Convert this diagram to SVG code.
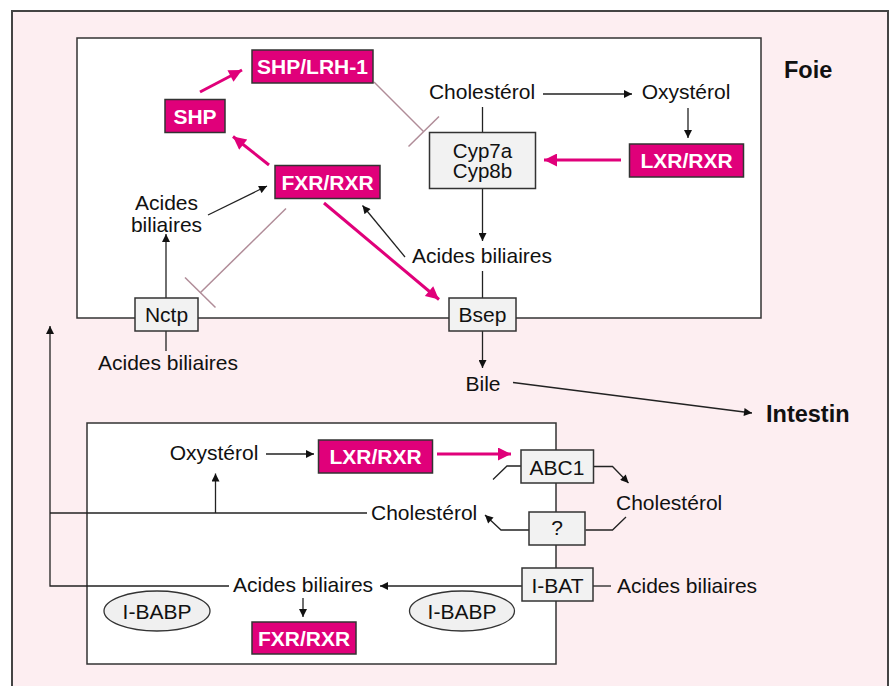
<svg xmlns="http://www.w3.org/2000/svg" width="890" height="686" viewBox="0 0 890 686">
<defs>
<style>
text{font-family:"Liberation Sans",Arial,sans-serif;font-size:21px;fill:#111}
.c{text-anchor:middle}
.w{fill:#fff;font-weight:bold}
.b{font-weight:bold;font-size:23.5px}
.box{fill:#f2f2f2;stroke:#333;stroke-width:1.5}
.pk{fill:#e0007a;stroke:#333;stroke-width:1.5}
.ln{fill:none;stroke:#222;stroke-width:1.3}
.pa{fill:none;stroke:#e0007a;stroke-width:3}
.inh{fill:none;stroke:#b08c98;stroke-width:1.5}
.frame{fill:#fff;stroke:#333;stroke-width:1.5}
</style>
<marker id="ah" viewBox="0 0 10 10" refX="10" refY="5" markerWidth="9" markerHeight="8" markerUnits="userSpaceOnUse" orient="auto"><path d="M0,0 L10,5 L0,10 z" fill="#111"/></marker>
<marker id="ap" viewBox="0 0 10 10" refX="10" refY="5" markerWidth="15" markerHeight="13" markerUnits="userSpaceOnUse" orient="auto"><path d="M0,0 L10,5 L0,10 z" fill="#e0007a"/></marker>
</defs>
<rect x="12" y="11" width="876" height="690" fill="#fdeef1" stroke="#444" stroke-width="2"/>
<rect class="frame" x="77" y="38" width="684" height="280"/>
<rect class="frame" x="87" y="423" width="469" height="241"/>
<text class="b" x="784" y="78">Foie</text>
<text class="b" x="766" y="422">Intestin</text>
<g id="connectors">
<line class="ln" x1="543" y1="94" x2="632" y2="94" marker-end="url(#ah)"/>
<line class="ln" x1="688" y1="108" x2="688" y2="138" marker-end="url(#ah)"/>
<line class="ln" x1="482.5" y1="107" x2="482.5" y2="132"/>
<line class="ln" x1="482.5" y1="188" x2="482.5" y2="241" marker-end="url(#ah)"/>
<line class="ln" x1="482.5" y1="271" x2="482.5" y2="298"/>
<line class="pa" x1="621" y1="160" x2="544" y2="160" marker-end="url(#ap)"/>
<line class="ln" x1="482.5" y1="331" x2="482.5" y2="368" marker-end="url(#ah)"/>
<line class="ln" x1="513" y1="382.5" x2="752" y2="413" marker-end="url(#ah)"/>
<line class="pa" x1="200" y1="92" x2="242" y2="70" marker-end="url(#ap)"/>
<line class="pa" x1="269" y1="165" x2="233" y2="136.5" marker-end="url(#ap)"/>
<line class="pa" x1="324" y1="203" x2="439" y2="299.5" marker-end="url(#ap)"/>
<line class="inh" x1="374" y1="82" x2="423.5" y2="131.5"/>
<line class="inh" x1="408.5" y1="146.5" x2="439" y2="116.5"/>
<line class="inh" x1="286" y1="208.5" x2="200" y2="293"/>
<line class="inh" x1="185" y1="277.5" x2="215.5" y2="307.5"/>
<line class="ln" x1="208" y1="215" x2="267" y2="186" marker-end="url(#ah)"/>
<line class="ln" x1="405" y1="257" x2="362.5" y2="205.5" marker-end="url(#ah)"/>
<line class="ln" x1="166" y1="298" x2="166" y2="234" marker-end="url(#ah)"/>
<line class="ln" x1="166" y1="331" x2="166" y2="351"/>
<path class="ln" d="M229,586 H50 V326" marker-end="url(#ah)"/>
<line class="ln" x1="50" y1="513" x2="367" y2="513"/>
<line class="ln" x1="215.5" y1="513" x2="215.5" y2="473.5" marker-end="url(#ah)"/>
<line class="ln" x1="266" y1="454" x2="314" y2="454" marker-end="url(#ah)"/>
<line class="pa" x1="437" y1="454" x2="511" y2="454" marker-end="url(#ap)"/>
<path class="ln" d="M493,479.5 L507,466 H521"/>
<path class="ln" d="M593.5,466.5 H612.5 L628.5,483" marker-end="url(#ah)"/>
<path class="ln" d="M626,517 L612.5,530 H585.5"/>
<path class="ln" d="M529,530 H501 L485,515" marker-end="url(#ah)"/>
<line class="ln" x1="593" y1="586" x2="611" y2="586"/>
<line class="ln" x1="522" y1="586" x2="380" y2="586" marker-end="url(#ah)"/>
<line class="ln" x1="303" y1="598" x2="303" y2="617" marker-end="url(#ah)"/>
</g>
<g id="cholesterol-liver"><text class="c" x="482" y="99">Cholestérol</text></g>
<g id="oxysterol-liver"><text class="c" x="686" y="99">Oxystérol</text></g>
<g id="cyp"><rect class="box" x="429.5" y="132.5" width="106" height="56"/><text class="c" x="482.5" y="157.5" style="font-size:20.5px">Cyp7a</text><text class="c" x="482.5" y="177.5" style="font-size:20.5px">Cyp8b</text></g>
<g id="lxr-liver"><rect class="pk" x="629.5" y="144" width="114" height="33"/><text class="c w" x="686.5" y="168">LXR/RXR</text></g>
<g id="shp-lrh"><rect class="pk" x="252" y="50" width="121" height="33"/><text class="c w" x="312.5" y="73.5">SHP/LRH-1</text></g>
<g id="shp"><rect class="pk" x="165" y="99.5" width="60" height="33"/><text class="c w" x="195" y="123.5">SHP</text></g>
<g id="fxr-liver"><rect class="pk" x="275" y="165.5" width="105" height="33"/><text class="c w" x="327.5" y="190">FXR/RXR</text></g>
<g id="acides-left"><text class="c" x="166.5" y="210">Acides</text><text class="c" x="166.5" y="232">biliaires</text></g>
<g id="acides-mid"><text class="c" x="482" y="263">Acides biliaires</text></g>
<g id="nctp"><rect class="box" x="135" y="298" width="63" height="33"/><text class="c" x="166.5" y="322">Nctp</text></g>
<g id="bsep"><rect class="box" x="449" y="298" width="67" height="33"/><text class="c" x="482.5" y="322">Bsep</text></g>
<g id="acides-blood"><text class="c" x="168" y="370">Acides biliaires</text></g>
<g id="bile"><text class="c" x="483" y="391">Bile</text></g>
<g id="oxysterol-int"><text class="c" x="214" y="460">Oxystérol</text></g>
<g id="lxr-int"><rect class="pk" x="318.5" y="440" width="114" height="33"/><text class="c w" x="375.5" y="463.5">LXR/RXR</text></g>
<g id="abc1"><rect class="box" x="521" y="450" width="72.5" height="33"/><text class="c" x="557" y="475">ABC1</text></g>
<g id="cholesterol-lumen"><text x="616" y="510">Cholestérol</text></g>
<g id="cholesterol-int"><text x="371" y="520">Cholestérol</text></g>
<g id="unknown"><rect class="box" x="529" y="512" width="56" height="33"/><text class="c" x="557" y="535">?</text></g>
<g id="ibat"><rect class="box" x="522" y="568" width="71" height="33"/><text class="c" x="557.5" y="593">I-BAT</text></g>
<g id="acides-lumen"><text x="617" y="593">Acides biliaires</text></g>
<g id="acides-int"><text x="233" y="592">Acides biliaires</text></g>
<g id="fxr-int"><rect class="pk" x="252" y="622" width="104" height="32"/><text class="c w" x="304" y="646">FXR/RXR</text></g>
<g id="ibabp-1"><ellipse cx="157" cy="611" rx="53" ry="20" fill="#f0f0f0" stroke="#333" stroke-width="1.3"/><text class="c" x="157" y="618.5">I-BABP</text></g>
<g id="ibabp-2"><ellipse cx="462" cy="611" rx="52.5" ry="20" fill="#f0f0f0" stroke="#333" stroke-width="1.3"/><text class="c" x="462" y="618.5">I-BABP</text></g>
</svg>
